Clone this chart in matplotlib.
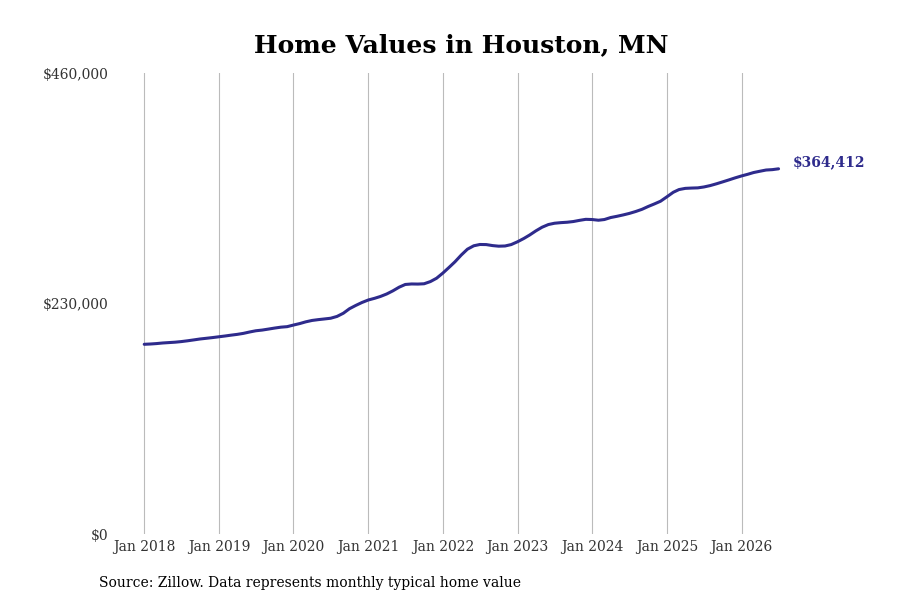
import pandas as pd
import matplotlib
matplotlib.use("Agg")
import matplotlib.pyplot as plt
import matplotlib.dates as mdates
from matplotlib.ticker import FuncFormatter

# Monthly typical home value, Jan 2018 - Jul 2026
start_month = "2018-01-01"
home_values = [
    189300, 189600, 190000, 190600, 191000, 191400, 192000, 192800, 193700, 194600, 195300, 196000,
    196800, 197600, 198400, 199200, 200200, 201600, 202800, 203500, 204500, 205500, 206400, 206900,
    208500, 210000, 211700, 213100, 213900, 214600, 215300, 217100, 220300, 224800, 228100, 231000,
    233500, 235200, 237000, 239500, 242600, 246300, 249000, 249500, 249400, 249700, 251900, 255200,
    260400, 266200, 271600, 278400, 284200, 287600, 288900, 288800, 287800, 287200, 287400, 288800,
    291600, 294900, 298300, 302500, 306100, 308800, 310100, 310700, 311100, 311800, 313000, 314000,
    313800, 313100, 313800, 315800, 317000, 318400, 319900, 321800, 324000, 326800, 329400, 332100,
    336500, 341000, 343700, 344900, 345200, 345400, 346300, 347700, 349500, 351400, 353400, 355400,
    357300, 359000, 360700, 362000, 363200, 363600, 364412,
]
y_ticks = [0, 230000, 460000]

title = "Home Values in Houston, MN"
source_note = "Source: Zillow. Data represents monthly typical home value"

line_color = "#2e2b8c"
text_color = "#333333"

plt.rcParams["font.family"] = ["DejaVu Serif"]

dates = pd.date_range(start_month, periods=len(home_values), freq="MS")

fig = plt.figure(figsize=(9, 6), dpi=100)
ax = fig.add_axes([0.128, 0.11, 0.75, 0.7683])

ax.plot(dates, home_values, color=line_color, linewidth=2.2, solid_capstyle="round")

# last value label
ax.annotate(f"${home_values[-1]:,}", xy=(dates[-1], home_values[-1]),
            xytext=(10, 5), textcoords="offset points",
            color=line_color, fontsize=10, fontweight="bold", va="center", ha="left")

ax.set_xlim(dates[0] - pd.Timedelta(days=142), dates[0] + pd.Timedelta(days=3160))
ax.set_ylim(0, 460000)
ax.set_yticks(y_ticks)
ax.yaxis.set_major_formatter(FuncFormatter(lambda v, p: f"${v:,.0f}"))

ax.xaxis.set_major_locator(mdates.YearLocator())
ax.xaxis.set_major_formatter(mdates.DateFormatter("%b %Y"))

ax.grid(axis="x", color="#bbbbbb", linewidth=0.8)
ax.grid(axis="y", visible=False)
for s in ax.spines.values():
    s.set_visible(False)
ax.tick_params(axis="both", length=0, labelsize=10, colors=text_color)
ax.tick_params(axis="x", pad=4)
ax.tick_params(axis="y", pad=5)

fig.suptitle(title, x=0.512, y=0.945, fontsize=18, fontweight="bold")
fig.text(0.11, 0.022, source_note, fontsize=10, color="black", ha="left")

fig.savefig("out.png", dpi=100)
